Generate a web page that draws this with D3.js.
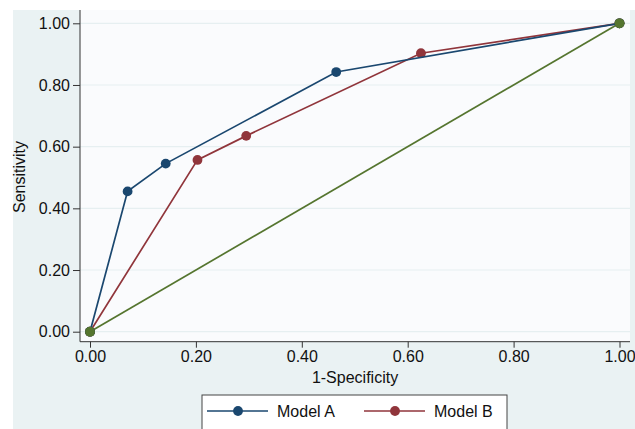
<!DOCTYPE html>
<html><head><meta charset="utf-8">
<script src="https://cdn.jsdelivr.net/npm/d3@7"></script>
<style>html,body{margin:0;padding:0;background:#fff;}svg{display:block;font-family:"Liberation Sans",Arial,sans-serif;}</style>
</head><body><svg id="c" width="635" height="429"></svg>
<script>
const modelA = [[0,0],[0.071,0.455],[0.143,0.545],[0.465,0.842],[1,1]];
const modelB = [[0,0],[0.203,0.557],[0.295,0.635],[0.625,0.903],[1,1]];
const reference = [[0,0],[1,1]];
const seriesNames = ["Model A","Model B"];
const ticks = [0,0.2,0.4,0.6,0.8,1.0];
const colors = {a:"#1a476f", b:"#90353b", g:"#55752f"};

const svg = d3.select("#c");
const x = d3.scaleLinear().domain([0,1]).range([90,619.5]);
const y = d3.scaleLinear().domain([0,1]).range([331.7,23.3]);
const FS = "16px";
const R = 4.9;

svg.append("rect").attr("x",13).attr("y",10).attr("width",622).attr("height",419).attr("fill","#eaf2f3");
svg.append("rect").attr("x",80).attr("y",10).attr("width",550).attr("height",331.7).attr("fill","#fafbfd");

svg.append("g").selectAll("line").data(ticks).join("line")
  .attr("x1",80).attr("x2",630).attr("y1",d=>y(d)).attr("y2",d=>y(d))
  .attr("stroke","#e6eff1").attr("stroke-width",1.2);

const yAxis = d3.axisLeft(y).tickValues(ticks).tickFormat(d3.format(".2f")).tickSize(7).tickPadding(3);
const gy = svg.append("g").attr("transform","translate(80,0)").call(yAxis);
gy.select(".domain").attr("d","M0,10V341.7").attr("stroke","#333");
const xAxis = d3.axisBottom(x).tickValues(ticks).tickFormat(d3.format(".2f")).tickSize(6).tickPadding(3);
const gx = svg.append("g").attr("transform","translate(0,341.7)").call(xAxis);
gx.select(".domain").attr("d","M80,0H630").attr("stroke","#333");
[gx,gy].forEach(g=>{
  g.attr("font-size",FS).attr("font-family","Liberation Sans, Arial, sans-serif");
  g.selectAll(".tick line").attr("stroke","#333");
  g.selectAll(".tick text").attr("fill","#111");
});

svg.append("text").attr("x",355).attr("y",383).attr("text-anchor","middle")
  .attr("font-size",FS).attr("fill","#111").text("1-Specificity");
svg.append("text").attr("transform","translate(25,177) rotate(-90)").attr("text-anchor","middle")
  .attr("font-size",FS).attr("fill","#111").text("Sensitivity");

const line = d3.line().x(d=>x(d[0])).y(d=>y(d[1]));
function series(data,color){
  svg.append("path").datum(data).attr("d",line).attr("fill","none").attr("stroke",color).attr("stroke-width",1.7);
  svg.append("g").selectAll("circle").data(data).join("circle")
    .attr("cx",d=>x(d[0])).attr("cy",d=>y(d[1])).attr("r",R).attr("fill",color);
}
series(reference,colors.g);
series(modelB,colors.b);
series(modelA,colors.a);
svg.append("g").selectAll("circle").data(reference).join("circle")
  .attr("cx",d=>x(d[0])).attr("cy",d=>y(d[1])).attr("r",R).attr("fill",colors.g);

const lg = svg.append("g");
lg.append("rect").attr("x",202).attr("y",395).attr("width",305).attr("height",40)
  .attr("fill","#fff").attr("stroke","#444").attr("stroke-width",1);
const items = [{name:seriesNames[0],c:colors.a,x0:207},{name:seriesNames[1],c:colors.b,x0:364}];
items.forEach(it=>{
  lg.append("line").attr("x1",it.x0).attr("x2",it.x0+61).attr("y1",411).attr("y2",411).attr("stroke",it.c).attr("stroke-width",1.7);
  lg.append("circle").attr("cx",it.x0+31).attr("cy",411).attr("r",R).attr("fill",it.c);
  lg.append("text").attr("x",it.x0+70).attr("y",417).attr("font-size",FS).attr("fill","#111").text(it.name);
});
</script></body></html>
